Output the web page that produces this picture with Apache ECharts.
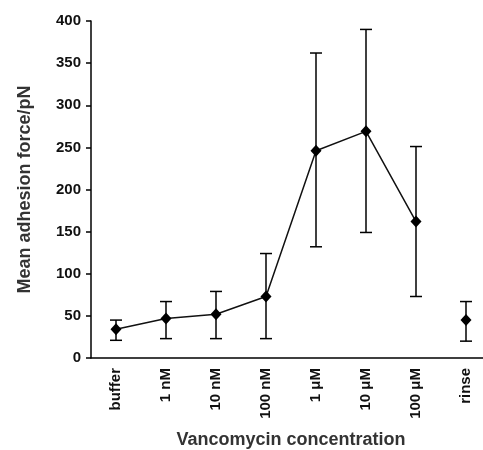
<!DOCTYPE html>
<html>
<head>
<meta charset="utf-8">
<script src="https://cdn.jsdelivr.net/npm/echarts@6/dist/echarts.min.js"></script>
<style>
  html, body { margin: 0; padding: 0; background: #fff; }
  #main { width: 483px; height: 450px; }
</style>
</head>
<body>
<div id="main"></div>
<script>
// categories on the x axis
const categories = ['buffer', '1 nM', '10 nM', '100 nM', '1 μM', '10 μM', '100 μM', 'rinse'];
// mean adhesion force (pN)
const meanForce = [34, 47, 52, 73, 246, 269, 162, 45];
// error bar ends
const errLow = [21, 23, 23, 23, 132, 149, 73, 20];
const errHigh = [45, 67, 79, 124, 362, 390, 251, 67];

const font = 'Liberation Sans, Arial, sans-serif';

// the connected part stops at 100 μM, rinse stands alone
const lineData = meanForce.map((v, i) => (i < 7 ? v : '-'));
const rinseData = meanForce.map((v, i) => (i === 7 ? v : '-'));
const errData = categories.map((c, i) => [i, errLow[i], errHigh[i]]);

const chart = echarts.init(document.getElementById('main'));

chart.setOption({
  backgroundColor: '#fff',
  animation: false,
  grid: { left: 91, top: 21, width: 400, height: 337, outerBoundsMode: 'none', containLabel: false },
  xAxis: {
    type: 'category',
    data: categories,
    name: 'Vancomycin concentration',
    nameLocation: 'middle',
    nameGap: 73,
    nameTextStyle: { fontFamily: font, fontWeight: 'bold', fontSize: 18, color: '#333' },
    axisLine: { lineStyle: { color: '#000', width: 1.5 } },
    axisTick: { length: 5, lineStyle: { color: '#000', width: 1.5 } },
    axisLabel: {
      rotate: 90,
      margin: 10,
      fontFamily: font,
      fontWeight: 'bold',
      fontSize: 15,
      color: '#111'
    }
  },
  yAxis: {
    type: 'value',
    min: 0,
    max: 400,
    interval: 50,
    name: 'Mean adhesion force/pN',
    nameLocation: 'middle',
    nameGap: 57,
    nameTextStyle: { fontFamily: font, fontWeight: 'bold', fontSize: 18, color: '#333' },
    axisLine: { show: true, lineStyle: { color: '#000', width: 1.5 } },
    axisTick: { show: true, length: 5, lineStyle: { color: '#000', width: 1.5 } },
    axisLabel: {
      margin: 10,
      fontFamily: font,
      fontWeight: 'bold',
      fontSize: 15,
      color: '#111'
    },
    splitLine: { show: false }
  },
  series: [
    {
      // vertical error bars with caps
      type: 'custom',
      data: errData,
      z: 1,
      renderItem: function (params, api) {
        const x = api.value(0);
        const lo = api.coord([x, api.value(1)]);
        const hi = api.coord([x, api.value(2)]);
        const cap = 6;
        const style = { stroke: '#000', lineWidth: 1.5 };
        return {
          type: 'group',
          children: [
            { type: 'line', shape: { x1: lo[0], y1: lo[1], x2: hi[0], y2: hi[1] }, style: style },
            { type: 'line', shape: { x1: lo[0] - cap, y1: lo[1], x2: lo[0] + cap, y2: lo[1] }, style: style },
            { type: 'line', shape: { x1: hi[0] - cap, y1: hi[1], x2: hi[0] + cap, y2: hi[1] }, style: style }
          ]
        };
      }
    },
    {
      type: 'line',
      data: lineData,
      z: 3,
      symbol: 'diamond',
      symbolSize: [11, 12],
      lineStyle: { color: '#111', width: 1.5 },
      itemStyle: { color: '#000' }
    },
    {
      type: 'line',
      data: rinseData,
      z: 3,
      symbol: 'diamond',
      symbolSize: [11, 12],
      lineStyle: { width: 0 },
      itemStyle: { color: '#000' }
    }
  ]
});
</script>
</body>
</html>
